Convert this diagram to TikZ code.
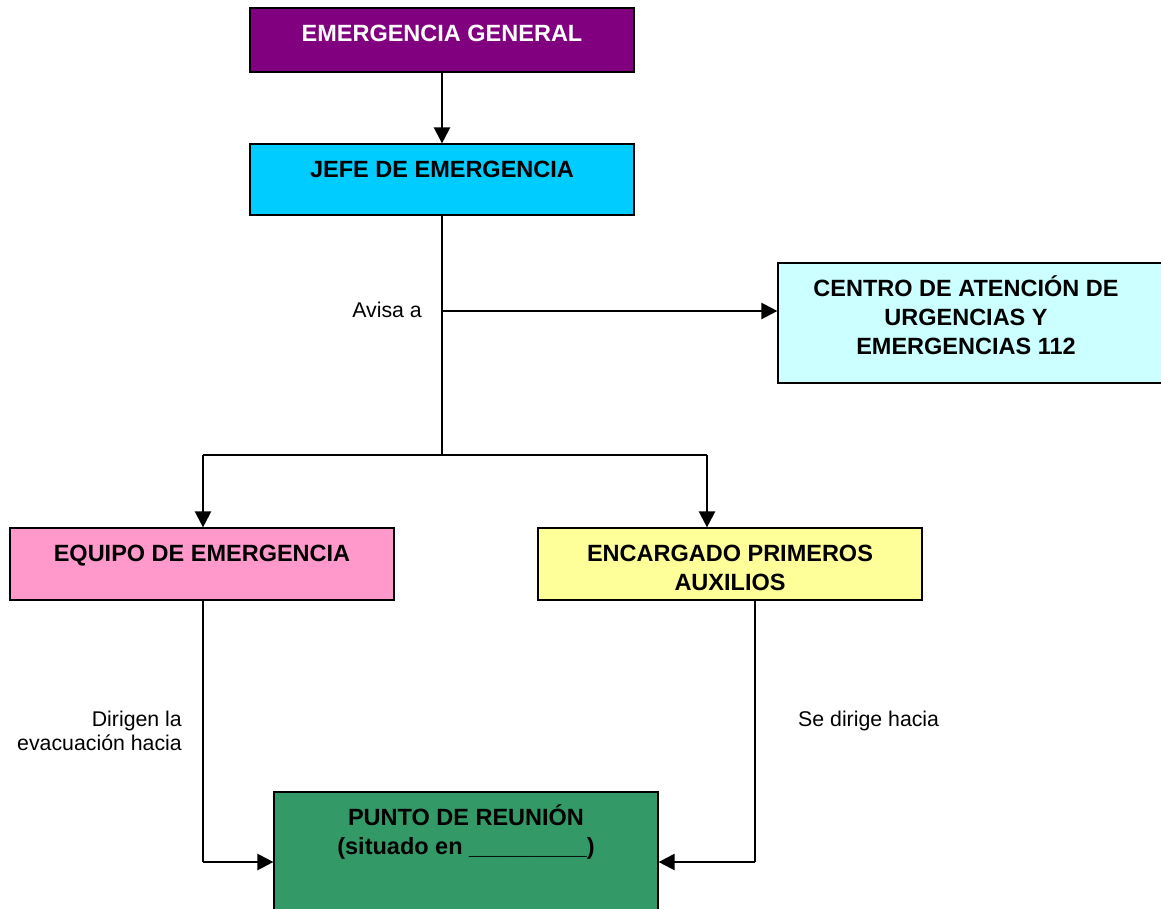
\documentclass[tikz,border=0pt]{standalone}
\usepackage{fontspec}
\setmainfont{Liberation Sans}
\usetikzlibrary{arrows.meta}
\definecolor{cpurple}{HTML}{800080}
\definecolor{ccyan}{HTML}{00CCFF}
\definecolor{clcyan}{HTML}{CCFFFF}
\definecolor{cpink}{HTML}{FF99CC}
\definecolor{cyellow}{HTML}{FFFF99}
\definecolor{cgreen}{HTML}{339966}
\begin{document}
\begin{tikzpicture}[x=1pt,y=-1pt,
  box/.style={draw=black, line width=1.2pt, minimum width=384pt, inner sep=0pt},
  btxt/.style={font=\fontsize{23.5}{29}\selectfont\bfseries, align=center, inner sep=0pt, anchor=north},
  ntxt/.style={font=\fontsize{21.3}{24}\selectfont, inner sep=0pt},
  thinl/.style={draw=black, line width=1.2pt},
  arr/.style={draw=black, line width=2.3pt, -{Triangle[length=16pt,width=16pt]}}]
\useasboundingbox[fill=white] (0,0) rectangle (1161,908);

\node[box, fill=cpurple, minimum height=64pt] (eg) at (442,40) {};
\node[box, fill=ccyan, minimum height=71pt] (jefe) at (442,179.5) {};
\node[box, fill=clcyan, minimum width=386pt, minimum height=120pt] (centro) at (971,323) {};
\node[box, fill=cpink, minimum height=72pt] (equipo) at (202,564) {};
\node[box, fill=cyellow, minimum height=72pt] (encargado) at (730,564) {};
\node[box, fill=cgreen, minimum height=140pt] (punto) at (466,862) {};

\node[btxt, text=white] (egt) at (442,17) {\rule{0pt}{24pt}EMERGENCIA GENERAL};
\node[btxt] (jefet) at (442,153) {\rule{0pt}{24pt}JEFE DE EMERGENCIA};
\node[btxt] (centrot) at (966,272) {\rule{0pt}{24pt}CENTRO DE ATENCIÓN DE\\URGENCIAS Y\\EMERGENCIAS 112};
\node[btxt] (equipot) at (202,537) {\rule{0pt}{24pt}EQUIPO DE EMERGENCIA};
\node[btxt] (encargadot) at (730,537) {\rule{0pt}{24pt}ENCARGADO PRIMEROS\\AUXILIOS};
\node[btxt] (puntot) at (466,801) {\rule{0pt}{24pt}PUNTO DE REUNIÓN\\(situado en \_\_\_\_\_\_\_\_\_)};

\node[ntxt, anchor=base east] (avisa) at (422,317) {Avisa a};
\node[ntxt, anchor=north east, align=right] (dirigen) at (182,706) {\rule{0pt}{20pt}Dirigen la\\evacuación hacia};
\node[ntxt, anchor=base west] (sedirige) at (798,726) {Se dirige hacia};

\coordinate (j1) at (442,311);
\coordinate (j2) at (442,455);
\coordinate (bl) at (203,455);
\coordinate (br) at (707,455);
\coordinate (el) at (203,862);
\coordinate (er) at (755,862);

\draw[arr] (eg.south) -- (jefe.north);
\draw[thinl] (jefe.south) -- (j2);
\draw[arr] (j1) -- (j1 -| centro.west);
\draw[thinl] (bl) -- (br);
\draw[arr] (bl) -- (bl |- equipo.north);
\draw[arr] (br) -- (br |- encargado.north);
\draw[thinl] (el |- equipo.south) -- (el);
\draw[arr] (el) -- (el -| punto.west);
\draw[thinl] (er |- encargado.south) -- (er);
\draw[arr] (er) -- (er -| punto.east);
\end{tikzpicture}
\end{document}
